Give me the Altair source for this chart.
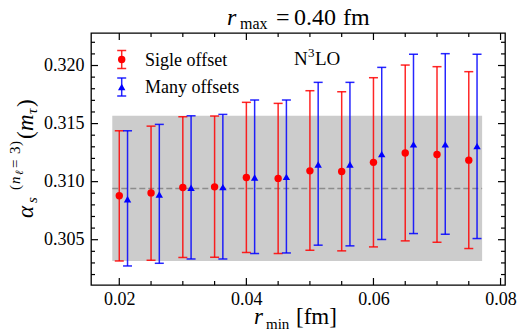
import altair as alt
import pandas as pd

# r_min values (fm) for the single-offset fits; the multi-offset points sit slightly to the right
r_single = [0.020, 0.025, 0.030, 0.035, 0.040, 0.045, 0.050, 0.055, 0.060, 0.065, 0.070, 0.075]
r_many = [0.0213, 0.0263, 0.0313, 0.0363, 0.0413, 0.0463, 0.0513, 0.0563, 0.0613, 0.0663, 0.0713, 0.0763]

# alpha_s(m_tau) central values and error-bar ends
a_single = [0.30878, 0.30903, 0.30950, 0.30955, 0.31036, 0.31028, 0.31093, 0.31088, 0.31166, 0.31246, 0.31234, 0.31185]
hi_single = [0.31438, 0.31478, 0.31559, 0.31565, 0.31683, 0.31674, 0.31783, 0.31774, 0.31895, 0.32004, 0.31990, 0.31947]
lo_single = [0.30317, 0.30323, 0.30347, 0.30349, 0.30390, 0.30381, 0.30409, 0.30404, 0.30438, 0.30490, 0.30478, 0.30424]

a_many = [0.30849, 0.30890, 0.30947, 0.30953, 0.31036, 0.31041, 0.31148, 0.31148, 0.31237, 0.31321, 0.31321, 0.31306]
hi_many = [0.31438, 0.31493, 0.31567, 0.31579, 0.31703, 0.31703, 0.31855, 0.31855, 0.31984, 0.32097, 0.32102, 0.32097]
lo_many = [0.30274, 0.30297, 0.30334, 0.30334, 0.30381, 0.30386, 0.30453, 0.30447, 0.30502, 0.30553, 0.30547, 0.30510]

# final result band
band_r = [0.0189, 0.0771]
band_lo, band_hi = 0.30317, 0.31567
central = 0.30942

x_major = [0.02, 0.04, 0.06, 0.08]
x_minor = [0.025, 0.03, 0.035, 0.045, 0.05, 0.055, 0.065, 0.07, 0.075]
y_major = [0.305, 0.310, 0.315, 0.320]
y_minor = [0.302, 0.303, 0.304, 0.306, 0.307, 0.308, 0.309, 0.311, 0.312, 0.313,
           0.314, 0.316, 0.317, 0.318, 0.319, 0.321, 0.322]

RED = "#ff0000"
BLUE = "#0000ff"
SERIF = "'Liberation Serif', 'DejaVu Serif', serif"
W, H = 414, 252
LEFT, TOP = 91, 33

xs = alt.Scale(domain=[0.01555, 0.0807], nice=False, zero=False)
ys = alt.Scale(domain=[0.3011, 0.3228], nice=False, zero=False)
xaxis = alt.Axis(values=x_major, format=".2f", ticks=False, domain=False, grid=False,
                 labelFont=SERIF, labelFontSize=18, labelColor="black", labelPadding=5,
                 title=None)
yaxis = alt.Axis(values=y_major, format=".3f", ticks=False, domain=False, grid=False,
                 labelFont=SERIF, labelFontSize=18, labelColor="black", labelPadding=7,
                 title=None)


def ex(field):
    return alt.X(field, type="quantitative", scale=xs, axis=xaxis)


def ey(field):
    return alt.Y(field, type="quantitative", scale=ys, axis=yaxis)


single = pd.DataFrame({"r": r_single, "a": a_single, "lo": lo_single, "hi": hi_single})
many = pd.DataFrame({"r": r_many, "a": a_many, "lo": lo_many, "hi": hi_many})
band = pd.DataFrame({"r0": [band_r[0]], "r1": [band_r[1]], "lo": [band_lo], "hi": [band_hi], "c": [central]})

layers = []

layers.append(alt.Chart(band).mark_rect(color="#cccccc").encode(
    x=ex("r0"), x2="r1", y=ey("lo"), y2="hi"))
layers.append(alt.Chart(band).mark_rule(color="#8c8c8c", strokeWidth=1.5, strokeDash=[6, 3]).encode(
    x=ex("r0"), x2="r1", y=ey("c")))


def series(df, color, shape):
    out = []
    out.append(alt.Chart(df).mark_rule(color=color, strokeWidth=1.5, opacity=0.85).encode(
        x=ex("r"), y=ey("lo"), y2="hi"))
    for end in ("lo", "hi"):
        out.append(alt.Chart(df).mark_rule(color=color, strokeWidth=1.5, opacity=0.85,
                                           xOffset=-4.5, x2Offset=4.5).encode(
            x=ex("r"), x2="r", y=ey(end)))
    out.append(alt.Chart(df).mark_point(filled=True, shape=shape, size=55, color=color,
                                        opacity=1).encode(x=ex("r"), y=ey("a")))
    return out


layers += series(single, RED, "circle")
layers += series(many, BLUE, "triangle-up")

# inward ticks on all four sides
xt_major = pd.DataFrame({"v": x_major})
xt_minor = pd.DataFrame({"v": x_minor})
yt_major = pd.DataFrame({"v": y_major})
yt_minor = pd.DataFrame({"v": y_minor})
for df, ln in ((xt_major, 7), (xt_minor, 4)):
    layers.append(alt.Chart(df).mark_rule(color="black", strokeWidth=1.2).encode(
        x=ex("v"), y=alt.value(H), y2=alt.value(H - ln)))
    layers.append(alt.Chart(df).mark_rule(color="black", strokeWidth=1.2).encode(
        x=ex("v"), y=alt.value(0), y2=alt.value(ln)))
for df, ln in ((yt_major, 7), (yt_minor, 4)):
    layers.append(alt.Chart(df).mark_rule(color="black", strokeWidth=1.2).encode(
        y=ey("v"), x=alt.value(0), x2=alt.value(ln)))
    layers.append(alt.Chart(df).mark_rule(color="black", strokeWidth=1.2).encode(
        y=ey("v"), x=alt.value(W), x2=alt.value(W - ln)))

dummy = pd.DataFrame({"d": [0]})


def label(txt, px, py, size, italic=False, angle=0, align="left"):
    props = dict(font=SERIF, fontSize=size, color="black", align=align, baseline="alphabetic")
    if italic:
        props["fontStyle"] = "italic"
    if angle:
        props["angle"] = angle
    return alt.Chart(dummy).mark_text(**props).encode(
        x=alt.value(px - LEFT), y=alt.value(py - TOP), text=alt.value(txt))


# legend
for color, shape, text, cy in ((RED, "circle", "Sigle offset", 59.5), (BLUE, "triangle-up", "Many offsets", 87)):
    lx = 121.7 - LEFT
    layers.append(alt.Chart(dummy).mark_rule(color=color, strokeWidth=1.5, opacity=0.85).encode(
        x=alt.value(lx), y=alt.value(cy - 9 - TOP), y2=alt.value(cy + 9 - TOP)))
    for dy in (-9, 9):
        layers.append(alt.Chart(dummy).mark_rule(color=color, strokeWidth=1.5, opacity=0.85).encode(
            x=alt.value(lx - 4.5), x2=alt.value(lx + 4.5), y=alt.value(cy + dy - TOP)))
    layers.append(alt.Chart(dummy).mark_point(filled=True, shape=shape, size=55, color=color,
                                              opacity=1).encode(
        x=alt.value(lx), y=alt.value(cy - TOP)))
    layers.append(label(text, 145, cy + 6, 18))

# order label
layers.append(label("N", 294, 65, 19))
layers.append(label("3", 308, 57, 13))
layers.append(label("LO", 315, 65, 19))

# title: r_max = 0.40 fm
layers.append(label("r", 227, 25, 24, italic=True))
layers.append(label("max", 240, 29, 16))
layers.append(label("=", 276, 25, 24))
layers.append(label("0.40", 294, 25, 24))
layers.append(label("fm", 343, 25, 24))

# x title: r_min [fm]
layers.append(label("r", 254, 324, 23, italic=True))
layers.append(label("min", 266, 329, 15))
layers.append(label("[fm]", 296, 324, 23))

# y title: alpha_s^(n_l=3)(m_tau), rotated
layers.append(label("α", 33, 218, 23, italic=True, angle=270))
layers.append(label("s", 37, 203, 15, italic=True, angle=270))
layers.append(label("(", 20, 190, 15, angle=270))
layers.append(label("n", 20, 184, 15, italic=True, angle=270))
layers.append(label("ℓ", 23, 175, 11, italic=True, angle=270))
layers.append(label("=", 20, 168, 15, angle=270))
layers.append(label("3", 20, 154, 15, angle=270))
layers.append(label(")", 20, 146, 15, angle=270))
layers.append(label("(", 33, 139, 23, angle=270))
layers.append(label("m", 33, 131, 23, italic=True, angle=270))
layers.append(label("τ", 37, 114, 15, italic=True, angle=270))
layers.append(label(")", 33, 107, 23, angle=270))

chart = alt.layer(*layers).properties(
    width=W, height=H,
    padding={"left": LEFT, "top": TOP, "right": 521 - LEFT - W, "bottom": 336 - TOP - H},
    autosize=alt.AutoSizeParams(type="none"),
    background="white",
).configure_view(stroke="black", strokeWidth=1.3)

chart.save("out.html", embed_options={"renderer": "svg", "actions": False})
